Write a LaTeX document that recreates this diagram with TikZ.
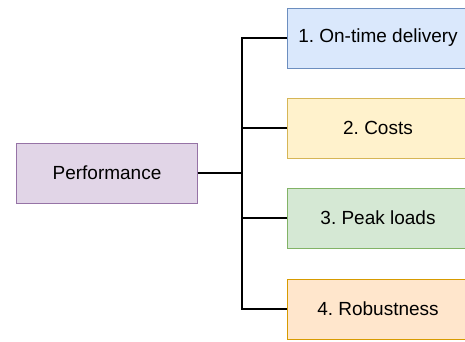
\documentclass[tikz,border=0pt]{standalone}
\usepackage{fontspec}
\setmainfont{Liberation Sans}
\frenchspacing

\definecolor{perfFill}{HTML}{E1D5E7}\definecolor{perfLine}{HTML}{9673A6}
\definecolor{blueFill}{HTML}{DAE8FC}\definecolor{blueLine}{HTML}{6C8EBF}
\definecolor{yellowFill}{HTML}{FFF2CC}\definecolor{yellowLine}{HTML}{D6B656}
\definecolor{greenFill}{HTML}{D5E8D4}\definecolor{greenLine}{HTML}{82B366}
\definecolor{orangeFill}{HTML}{FFE6CC}\definecolor{orangeLine}{HTML}{D79B00}

\tikzset{
  box/.style={draw, line width=0.8pt, minimum width=181pt, minimum height=60pt,
    inner sep=0pt, font=\fontsize{19}{22}\selectfont},
  branch/.style={line width=1.2pt, black}
}

\begin{document}
\begin{tikzpicture}[x=1pt, y=-1pt]
          \useasboundingbox (0,0) rectangle (465,341);
          \clip (0,0) rectangle (465,341);

          \node[box, fill=perfFill, draw=perfLine] (perf) at (107,173) {Performance};
          \coordinate (fork) at (242,173);

          \node[box, fill=blueFill, draw=blueLine] (goal1) at (378,38) {1. On-time delivery};
          \node[box, fill=yellowFill, draw=yellowLine] (goal2) at (378,128) {2. Costs};
          \node[box, fill=greenFill, draw=greenLine] (goal3) at (378,218) {3. Peak loads};
          \node[box, fill=orangeFill, draw=orangeLine] (goal4) at (378,309) {4. Robustness};

          \foreach \n in {1,...,4}{
            \draw[branch] (perf.east) -- (fork) |- (goal\n.west);
          }
        \end{tikzpicture}
\end{document}
